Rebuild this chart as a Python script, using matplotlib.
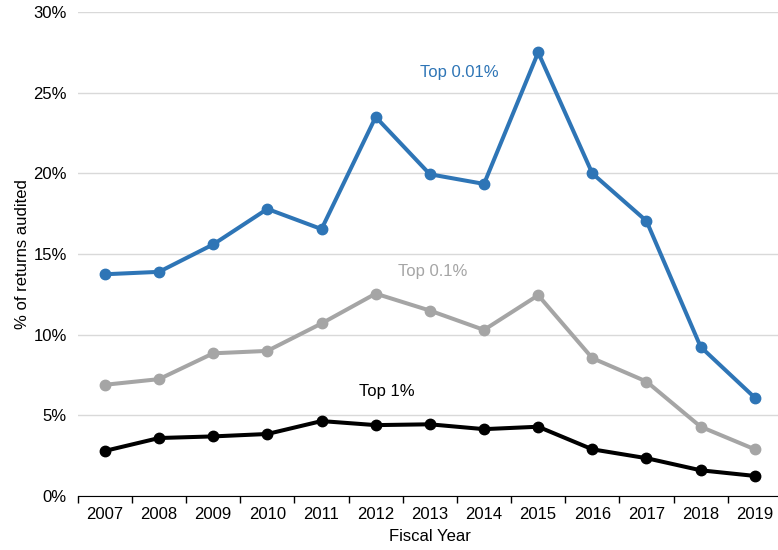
import numpy as np
import matplotlib.pyplot as plt
from matplotlib.ticker import FixedLocator, PercentFormatter

plt.rcParams['font.family'] = ['Liberation Sans', 'DejaVu Sans']

years = [str(y) for y in range(2007, 2020)]
top_001 = [13.75, 13.9, 15.6, 17.8, 16.55, 23.5, 19.95, 19.35, 27.5, 20.0, 17.05, 9.25, 6.1]
top_01 = [6.9, 7.25, 8.85, 9.0, 10.7, 12.55, 11.5, 10.3, 12.45, 8.55, 7.1, 4.3, 2.9]
top_1 = [2.8, 3.6, 3.7, 3.85, 4.65, 4.4, 4.45, 4.15, 4.3, 2.9, 2.35, 1.6, 1.25]

blue = '#2E75B6'
grey = '#A5A5A5'
fs = 12

fig = plt.figure(figsize=(7.78, 5.5), dpi=100)
ax = fig.add_axes([0.1, 0.098, 0.905, 0.88])

x = np.arange(len(years))
ax.plot(x, top_001, color=blue, lw=2.9, marker='o', ms=7.5, zorder=3)
ax.plot(x, top_01, color=grey, lw=2.9, marker='o', ms=7.5, zorder=3)
ax.plot(x, top_1, color='black', lw=2.9, marker='o', ms=7.5, zorder=3)

ax.text(6.55, 26.25, 'Top 0.01%', color=blue, fontsize=fs, ha='center', va='center')
ax.text(6.05, 13.9, 'Top 0.1%', color=grey, fontsize=fs, ha='center', va='center')
ax.text(5.2, 6.5, 'Top 1%', color='black', fontsize=fs, ha='center', va='center')

ax.set_xlim(-0.5, len(years) - 0.5)
ax.set_ylim(0, 30)
ax.set_yticks(np.arange(0, 31, 5))
ax.yaxis.set_major_formatter(PercentFormatter(decimals=0))
ax.set_xticks(x)
ax.set_xticklabels(years)
ax.xaxis.set_minor_locator(FixedLocator(np.arange(-0.5, len(years), 1.0)))
ax.tick_params(axis='x', which='major', length=0, labelsize=fs, pad=8)
ax.tick_params(axis='x', which='minor', length=5, width=1, color='black')
ax.tick_params(axis='y', length=0, labelsize=fs, pad=8)

ax.grid(axis='y', color='#D9D9D9', lw=1)
ax.set_axisbelow(True)
for s in ['top', 'right', 'left']:
    ax.spines[s].set_visible(False)
ax.spines['bottom'].set_color('black')

ax.set_xlabel('Fiscal Year', fontsize=fs, labelpad=5)
ax.set_ylabel('% of returns audited', fontsize=fs, labelpad=2)

fig.savefig('out.png', dpi=100)
